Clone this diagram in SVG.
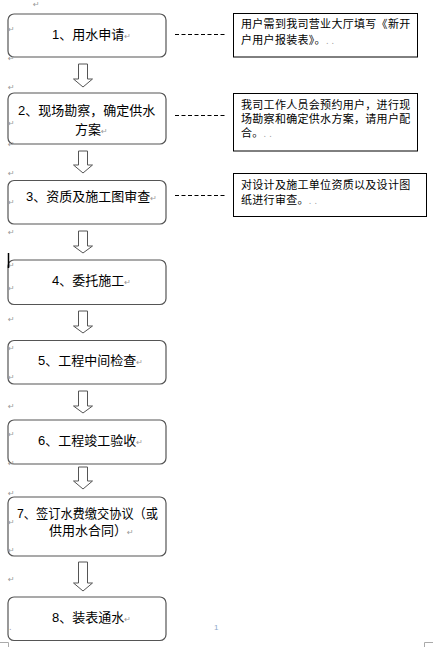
<svg xmlns="http://www.w3.org/2000/svg" width="433" height="647" viewBox="0 0 433 647">
<style>
.step{fill:#fff;stroke:#555;stroke-width:1.2}
.note{fill:#fff;stroke:#000;stroke-width:1}
.t{font-family:"Liberation Sans","Noto Sans CJK SC",sans-serif;font-size:13px;fill:#000}
.n{font-family:"Liberation Sans","Noto Sans CJK SC",sans-serif;font-size:11px;fill:#000;letter-spacing:0.3px}
.pm{font-family:"DejaVu Sans",sans-serif;font-size:8px;fill:#999}
.dash{stroke:#000;stroke-width:1;stroke-dasharray:4 2.5;fill:none}
.arr{fill:#fff;stroke:#555;stroke-width:1}
.mark{stroke:#aaa;stroke-width:1;fill:none}
</style>
<rect width="433" height="647" fill="#fff"/>
<g id="connectors">
<path class="arr" d="M78.5,64 H87.5 V79 H92.5 L83,87 L73.5,79 H78.5 Z"/>
<path class="arr" d="M78.5,151 H87.5 V165 H92.5 L83,173 L73.5,165 H78.5 Z"/>
<path class="arr" d="M78.5,231 H87.5 V246 H92.5 L83,253 L73.5,246 H78.5 Z"/>
<path class="arr" d="M78.5,311 H87.5 V326 H92.5 L83,333 L73.5,326 H78.5 Z"/>
<path class="arr" d="M78.5,391 H87.5 V406 H92.5 L83,413 L73.5,406 H78.5 Z"/>
<path class="arr" d="M78.5,467 H87.5 V481 H92.5 L83,489 L73.5,481 H78.5 Z"/>
<path class="arr" d="M78.5,562 H87.5 V583 H92.5 L83,591 L73.5,583 H78.5 Z"/>
<line class="dash" x1="175" y1="34.5" x2="227" y2="34.5"/>
<line class="dash" x1="175" y1="115.5" x2="227" y2="115.5"/>
<line class="dash" x1="175" y1="195.5" x2="227" y2="195.5"/>
</g>
<g id="step1">
<rect class="step" x="8" y="14" width="158" height="43" rx="6"/>
<text class="t" x="52" y="38.5">1、用水申请<tspan class="pm">↵</tspan></text>
</g>
<g id="note1">
<rect class="note" x="233.5" y="13.5" width="184" height="43.5"/>
<text class="n" x="241" y="28">用户需到我司营业大厅填写《新开</text>
<text class="n" x="241" y="43.5">户用户报装表》。<tspan class="pm">. .</tspan></text>
</g>
<g id="step2">
<rect class="step" x="8" y="93" width="158" height="51" rx="6"/>
<text class="t" x="18" y="114.5">2、现场勘察，确定供水</text>
<text class="t" x="75" y="133.5">方案<tspan class="pm">↵</tspan></text>
</g>
<g id="note2">
<rect class="note" x="233.5" y="93.5" width="184" height="57.5"/>
<text class="n" x="241" y="109">我司工作人员会预约用户，进行现</text>
<text class="n" x="241" y="123">场勘察和确定供水方案，请用户配</text>
<text class="n" x="241" y="137">合。<tspan class="pm">. .</tspan></text>
</g>
<g id="step3">
<rect class="step" x="8" y="180.5" width="158" height="43.5" rx="6"/>
<text class="t" x="26" y="200.5">3、资质及施工图审查<tspan class="pm">↵</tspan></text>
</g>
<g id="note3">
<rect class="note" x="233.5" y="173.5" width="193" height="43"/>
<text class="n" x="241" y="189">对设计及施工单位资质以及设计图</text>
<text class="n" x="241" y="204">纸进行审查。<tspan class="pm">. .</tspan></text>
</g>
<g id="step4">
<rect class="step" x="8" y="260" width="158" height="44.5" rx="6"/>
<text class="t" x="52" y="284.5">4、委托施工<tspan class="pm">↵</tspan></text>
</g>
<g id="step5">
<rect class="step" x="8" y="340.5" width="158" height="43.5" rx="6"/>
<text class="t" x="38" y="364.5">5、工程中间检查<tspan class="pm">↵</tspan></text>
</g>
<g id="step6">
<rect class="step" x="8" y="420" width="158" height="44" rx="6"/>
<text class="t" x="38" y="444.5">6、工程竣工验收<tspan class="pm">↵</tspan></text>
</g>
<g id="step7">
<rect class="step" x="8" y="497" width="158" height="59" rx="6"/>
<text class="t" x="17" y="517.5" textLength="141" lengthAdjust="spacingAndGlyphs">7、签订水费缴交协议（或</text>
<text class="t" x="49" y="534.5">供用水合同）<tspan class="pm">↵</tspan></text>
</g>
<g id="step8">
<rect class="step" x="8" y="597" width="158" height="43.5" rx="6"/>
<text class="t" x="52" y="621.5">8、装表通水<tspan class="pm">↵</tspan></text>
</g>
<g id="marks">
<text class="pm" x="33" y="7">↵</text>
<text class="pm" x="8" y="32">↵</text>
<text class="pm" x="8" y="61">↵</text>
<text class="pm" x="8" y="90">↵</text>
<text class="pm" x="8" y="126">↵</text>
<text class="pm" x="8" y="147">↵</text>
<text class="pm" x="8" y="176">↵</text>
<text class="pm" x="8" y="205">↵</text>
<text class="pm" x="8" y="235">↵</text>
<text class="pm" x="8" y="268">↵</text>
<text class="pm" x="8" y="291">↵</text>
<text class="pm" x="8" y="322">↵</text>
<text class="pm" x="8" y="351">↵</text>
<text class="pm" x="8" y="380">↵</text>
<text class="pm" x="8" y="409">↵</text>
<text class="pm" x="8" y="437">↵</text>
<text class="pm" x="8" y="466">↵</text>
<text class="pm" x="8" y="496">↵</text>
<text class="pm" x="8" y="525">↵</text>
<text class="pm" x="8" y="553">↵</text>
<text class="pm" x="8" y="582">↵</text>
<text class="pm" x="9" y="630">.</text>
<line x1="8.5" y1="253" x2="8.5" y2="268" stroke="#000" stroke-width="1.5"/>
<text x="214" y="630" font-family="Liberation Sans, sans-serif" font-size="8" fill="#8ea9c8">1</text>
<path class="mark" d="M0,642.5 H8.5 V647"/>
<path class="mark" d="M433,642.5 H424.5 V647"/>
</g>
</svg>
